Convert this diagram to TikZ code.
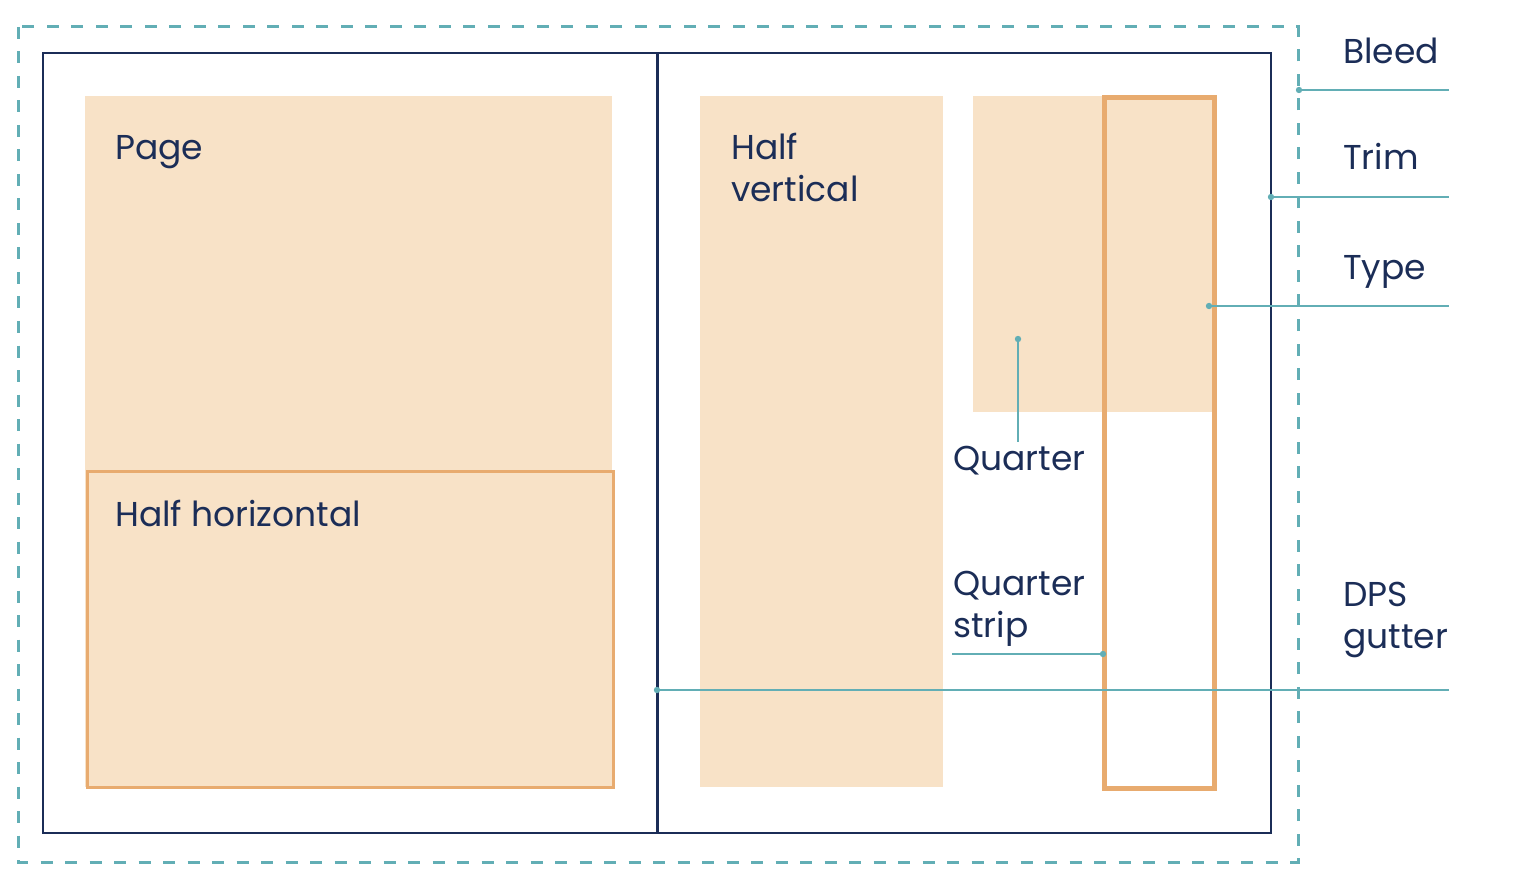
\documentclass[tikz,border=0pt]{standalone}
\usepackage{fontspec}
\setmainfont{Poppins}
\definecolor{navy}{HTML}{1B2D57}
\definecolor{tealc}{HTML}{62AEB5}
\definecolor{orangec}{HTML}{E8AB6F}
\definecolor{fillc}{HTML}{F8E2C7}
\begin{document}
\begin{tikzpicture}[x=1pt,y=-1pt,
  lbl/.style={anchor=base west, inner sep=0pt, text=navy, font=\fontsize{34.5}{42}\selectfont, align=left},
  leader/.style={draw=tealc, line width=1.6pt},
  dotc/.style={fill=tealc}]
\useasboundingbox (0,0) rectangle (1530,890);
% filled ad areas
\fill[fillc] (85,96) rectangle (612,787);
\fill[fillc] (700,96) rectangle (943,787);
\fill[fillc] (973,96) rectangle (1213,412);
\draw[orangec, line width=3pt] (87,471) rectangle (613,787);
\draw[orangec, line width=5pt] (1104,98) rectangle (1214,788);
% trim and gutter
\draw[navy, line width=1.8pt] (43,53) rectangle (1271,833);
\draw[navy, line width=3pt] (657,53) -- (657,833);
% bleed
\draw[tealc, line width=3pt, dash pattern=on 12pt off 12.5pt] (18,27) rectangle (1298,862);
% labels
\node[lbl] (page) at (115,160) {Page};
\node[lbl] (hh) at (115,526) {Half horizontal};
\node[lbl] (hv) at (731,202) {Half\\vertical};
\node[lbl] (q) at (953,470) {Quarter};
\node[lbl] (qs) at (953,637) {Quarter\\strip};
\node[lbl] (bleed) at (1343,64) {Bleed};
\node[lbl] (trim) at (1343,170) {Trim};
\node[lbl] (type) at (1343,280) {Type};
\node[lbl] (dps) at (1343,648) {DPS\\gutter};
% leader coordinates
\coordinate (bleedDot) at (1299,90);
\coordinate (bleedEnd) at (1449,90);
\coordinate (trimDot) at (1271,197);
\coordinate (trimEnd) at (1449,197);
\coordinate (typeDot) at (1209,306);
\coordinate (typeEnd) at (1449,306);
\coordinate (qDot) at (1018,339);
\coordinate (qEnd) at (1018,442);
\coordinate (qsStart) at (952,654);
\coordinate (qsDot) at (1103,654);
\coordinate (dpsDot) at (657,690);
\coordinate (dpsEnd) at (1449,690);
\draw[leader] (bleedDot) -- (bleedEnd);
\draw[leader] (trimDot) -- (trimEnd);
\draw[leader] (typeDot) -- (typeEnd);
\draw[leader] (qDot) -- (qEnd);
\draw[leader] (qsStart) -- (qsDot);
\draw[leader] (dpsDot) -- (dpsEnd);
\foreach \d in {bleedDot,trimDot,typeDot,qDot,qsDot,dpsDot}
  \fill[dotc] (\d) circle (3.2pt);
\end{tikzpicture}
\end{document}
